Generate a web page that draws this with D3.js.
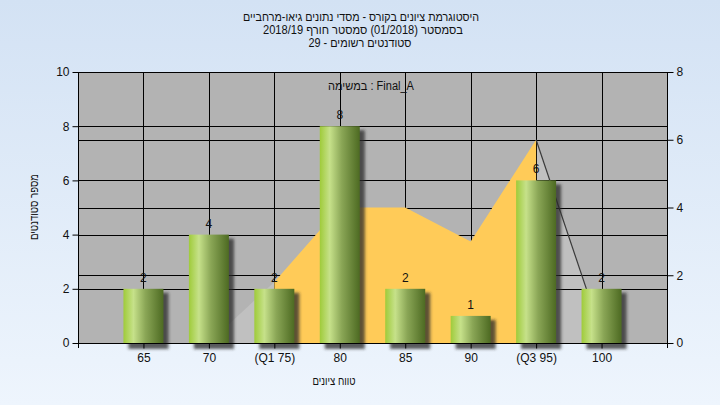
<!DOCTYPE html>
<html><head><meta charset="utf-8">
<script src="https://cdn.jsdelivr.net/npm/d3@7"></script>
<style>html,body{margin:0;padding:0;}svg{display:block;}</style>
</head><body>
<script>
const categories = ["65","70","(Q1 75)","80","85","90","(Q3 95)","100"];
const counts = [2,4,2,8,2,1,6,2];
const curve = [0,0,1.8,4,4,3,6,0.27];
const leftTicks = [0,2,4,6,8,10];
const rightTicks = [0,2,4,6,8];
const titleLines = ["היסטוגרמת ציונים בקורס - מסדי נתונים גיאו-מרחביים","בסמסטר  (01/2018)  סמסטר חורף 2018/19","סטודנטים רשומים - 29"];
const legendText = "במשימה : Final_A";
const yTitle = "מספר סטודנטים";
const xTitle = "טווח ציונים";
const q1Index = 2, q3Index = 6;

const W=720,H=405, L=78,R=667,T=72,B=343;
const font = "'Liberation Sans', Arial, sans-serif";
const svg = d3.select("body").append("svg").attr("width",W).attr("height",H);
const defs = svg.append("defs");
const bgG = defs.append("linearGradient").attr("id","bg").attr("x1",0).attr("y1",0).attr("x2",0).attr("y2",1);
bgG.append("stop").attr("offset","0%").attr("stop-color","#d3e2f4");
bgG.append("stop").attr("offset","100%").attr("stop-color","#eef5fd");
const barG = defs.append("linearGradient").attr("id","bar").attr("x1",0).attr("y1",0).attr("x2",1).attr("y2",0);
[["0%","#9fcb3a"],["25%","#c6e18a"],["55%","#8aa656"],["100%","#4d6a22"]].forEach(s=>barG.append("stop").attr("offset",s[0]).attr("stop-color",s[1]));
const f = defs.append("filter").attr("id","blur").attr("x","-50%").attr("y","-50%").attr("width","200%").attr("height","200%");
f.append("feGaussianBlur").attr("stdDeviation",1.8);

svg.append("rect").attr("width",W).attr("height",H).attr("fill","url(#bg)");

const x = d3.scalePoint().domain(categories).range([L,R]).padding(1);
const yL = d3.scaleLinear().domain([0,10]).range([B,T]);
const yR = d3.scaleLinear().domain([0,8]).range([B,T]);

svg.append("rect").attr("x",L).attr("y",T).attr("width",R-L).attr("height",B-T).attr("fill","#b3b3b3");

const pts = categories.map((c,i)=>({c,v:curve[i],i}));
const area = d3.area().x(d=>x(d.c)).y0(B).y1(d=>yR(d.v));
svg.append("path").attr("d",area(pts.slice(0,q1Index+1))).attr("fill","#c0c0c0");
svg.append("path").attr("d",area(pts.slice(q3Index))).attr("fill","#c0c0c0");

const grid = svg.append("g").attr("stroke","#000").attr("stroke-width",1);
leftTicks.forEach(t=>grid.append("line").attr("x1",L).attr("x2",R).attr("y1",Math.round(yL(t))+0.5).attr("y2",Math.round(yL(t))+0.5));
rightTicks.forEach(t=>grid.append("line").attr("x1",L).attr("x2",R).attr("y1",Math.round(yR(t))+0.5).attr("y2",Math.round(yR(t))+0.5));
categories.forEach(c=>grid.append("line").attr("x1",Math.round(x(c))+0.5).attr("x2",Math.round(x(c))+0.5).attr("y1",T).attr("y2",B));

svg.append("path").attr("d",area(pts.slice(q1Index,q3Index+1))).attr("fill","#ffcb58");
svg.append("path").attr("d",d3.line().x(d=>x(d.c)).y(d=>yR(d.v))(pts.slice(q3Index))).attr("fill","none").attr("stroke","#3a3a3a").attr("stroke-width",1.2);

svg.append("text").attr("x",371).attr("y",90).attr("text-anchor","middle").attr("font-family",font).attr("font-size",12).attr("fill","#111")
  .attr("textLength",86).attr("lengthAdjust","spacingAndGlyphs").text(legendText);

const bw = 40;
const bars = svg.append("g");
categories.forEach((c,i)=>{
  bars.append("rect").attr("x",x(c)-bw/2+5).attr("y",yL(counts[i])+4).attr("width",bw).attr("height",B-yL(counts[i])+2)
    .attr("fill","rgba(40,40,40,0.75)").attr("filter","url(#blur)");
});
categories.forEach((c,i)=>{
  bars.append("rect").attr("x",x(c)-bw/2).attr("y",yL(counts[i])).attr("width",bw).attr("height",B-yL(counts[i])).attr("fill","url(#bar)");
  bars.append("text").attr("x",x(c)).attr("y",yL(counts[i])-7).attr("text-anchor","middle").attr("font-family",font).attr("font-size",12).attr("fill","#111").text(counts[i]);
});

const axL = svg.append("g").attr("transform",`translate(${L+0.5},0)`).call(d3.axisLeft(yL).tickValues(leftTicks).tickSize(6).tickPadding(3));
const axR = svg.append("g").attr("transform",`translate(${R+0.5},0)`).call(d3.axisRight(yR).tickValues(rightTicks).tickSize(6).tickPadding(3));
const axB = svg.append("g").attr("transform",`translate(0,${B+0.5})`).call(d3.axisBottom(x).tickSize(5).tickPadding(5));
[axL,axR,axB].forEach(a=>{a.selectAll("text").attr("font-family",font).attr("font-size",12).attr("fill","#111");
  a.selectAll("line").attr("stroke","#000"); a.select(".domain").remove();});
svg.append("line").attr("x1",L+0.5).attr("x2",L+0.5).attr("y1",T).attr("y2",B+5).attr("stroke","#000");
svg.append("line").attr("x1",R+0.5).attr("x2",R+0.5).attr("y1",T).attr("y2",B+5).attr("stroke","#000");
svg.append("line").attr("x1",L).attr("x2",R+1).attr("y1",B+0.5).attr("y2",B+0.5).attr("stroke","#000");

const titleWidths = [236,200,103];
const titleCx = [361,363,360];
titleLines.forEach((t,i)=>svg.append("text").attr("x",titleCx[i]).attr("y",21+i*13).attr("text-anchor","middle").attr("direction","rtl")
  .attr("font-family",font).attr("font-size",12).attr("fill","#111").attr("textLength",titleWidths[i]).attr("lengthAdjust","spacingAndGlyphs").text(t));
svg.append("text").attr("transform","translate(38,207) rotate(-90)").attr("text-anchor","middle").attr("font-family",font).attr("font-size",12).attr("fill","#111")
  .attr("textLength",66).attr("lengthAdjust","spacingAndGlyphs").text(yTitle);
svg.append("text").attr("x",334).attr("y",385).attr("text-anchor","middle").attr("font-family",font).attr("font-size",12).attr("fill","#111")
  .attr("textLength",43).attr("lengthAdjust","spacingAndGlyphs").text(xTitle);
</script>
</body></html>
